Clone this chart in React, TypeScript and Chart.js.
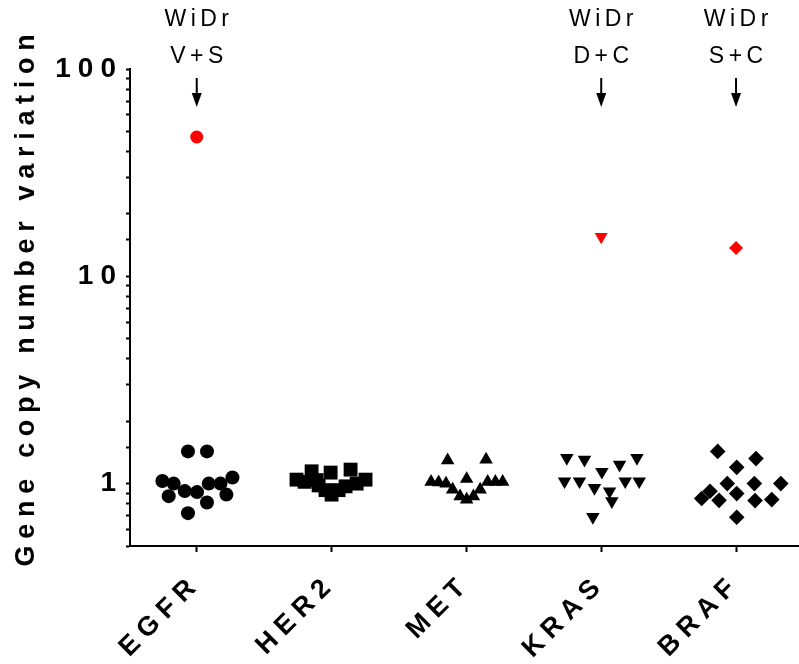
import { useEffect, useRef } from 'react';
import { Chart, registerables } from 'chart.js';

Chart.register(...registerables);

const categories = ['EGFR', 'HER2', 'MET', 'KRAS', 'BRAF'];

const egfrValues = [1.43, 1.43, 1.03, 1.0, 1.07, 1.0, 1.0, 0.87, 0.92, 0.91, 0.885, 0.81, 0.72];
const egfrOffsets = [-0.065, 0.076, -0.255, -0.171, 0.265, 0.089, 0.176, -0.208, -0.089, 0.002, 0.22, 0.076, -0.065];

const her2Values = [1.045, 1.146, 1.13, 1.168, 1.045, 1.02, 0.98, 0.93, 0.885, 0.93, 0.97, 1.0, 1.04];
const her2Offsets = [-0.26, -0.148, -0.007, 0.141, 0.252, -0.2, -0.096, -0.045, 0, 0.052, 0.104, 0.186, -0.111];

const metValues = [1.295, 1.305, 1.053, 1.02, 1.015, 1.0, 1.02, 1.02, 1.02, 0.935, 0.869, 0.837, 0.869, 0.935];
const metOffsets = [-0.139, 0.146, 0.002, -0.262, -0.206, -0.151, 0.158, 0.215, 0.269, -0.102, -0.047, 0.002, 0.052, 0.102];

const krasValues = [1.33, 1.305, 1.33, 1.235, 1.14, 1.026, 1.026, 1.026, 1.026, 0.953, 0.918, 0.822, 0.69];
const krasOffsets = [-0.255, -0.124, 0.265, 0.136, 0.005, -0.272, -0.161, 0.178, 0.282, -0.05, 0.062, 0.079, -0.062];

const brafValues = [1.43, 1.32, 1.198, 1.0, 1.0, 1.0, 0.918, 0.895, 0.847, 0.83, 0.828, 0.837, 0.688];
const brafOffsets = [-0.136, 0.148, 0.005, -0.065, 0.136, 0.332, -0.193, 0.005, -0.255, -0.126, 0.141, 0.265, 0.005];

const outlierValues = [47, null, null, 15.5, 13.7];

const annotationTop = ['WiDr', '', '', 'WiDr', 'WiDr'];
const annotationBottom = ['V+S', '', '', 'D+C', 'S+C'];

const yTickLabels = [1, 10, 100];
const yTitle = 'Gene copy number variation';

const seriesValues = [egfrValues, her2Values, metValues, krasValues, brafValues];
const seriesOffsets = [egfrOffsets, her2Offsets, metOffsets, krasOffsets, brafOffsets];
const pointStyles = ['circle', 'rect', 'triangle', 'triangle', 'rectRot'];
const pointRotations = [0, 0, 0, 180, 0];
const pointRadii = [7, 9.8, 7.8, 7.8, 7.8];
const outlierRadii = [6.5, 6.5, 6.5, 7.5, 7];

const FONT = '"Liberation Sans", Arial, sans-serif';

export default function App() {
  const ref = useRef<HTMLCanvasElement | null>(null);

  useEffect(() => {
    document.body.style.margin = '0';
    const canvas = ref.current;
    if (!canvas) return;
    Chart.defaults.font.family = FONT;

    const datasets: any[] = seriesValues.map((vals, i) => ({
      label: categories[i],
      data: vals.map((v, k) => ({ x: i + seriesOffsets[i][k], y: v })),
      pointStyle: pointStyles[i],
      rotation: pointRotations[i],
      pointRadius: pointRadii[i],
      backgroundColor: '#000000',
      borderColor: '#000000',
      borderWidth: 0,
      showLine: false,
    }));

    const outlierIdx: number[] = [];
    const outlierData: any[] = [];
    outlierValues.forEach((v, i) => {
      if (v != null) {
        outlierIdx.push(i);
        outlierData.push({ x: i, y: v });
      }
    });
    datasets.push({
      label: 'outliers',
      data: outlierData,
      pointStyle: outlierIdx.map((i) => pointStyles[i]),
      rotation: outlierIdx.map((i) => pointRotations[i]),
      pointRadius: outlierIdx.map((i) => outlierRadii[i]),
      backgroundColor: '#ff0000',
      borderColor: '#ff0000',
      borderWidth: 0,
      showLine: false,
    });

    const spacingPlugin = {
      id: 'spacing',
      beforeDraw(chart: any) {
        const ctx = chart.ctx;
        ctx.save();
        ctx.letterSpacing = '7px';
      },
      beforeDatasetsDraw(chart: any) {
        chart.ctx.restore();
      },
    };

    const annotPlugin = {
      id: 'annot',
      afterDraw(chart: any) {
        const ctx = chart.ctx;
        const xs = chart.scales.x;
        ctx.save();
        ctx.fillStyle = '#000';
        ctx.strokeStyle = '#000';
        ctx.font = `23px ${FONT}`;
        ctx.letterSpacing = '4.5px';
        ctx.textAlign = 'center';
        ctx.textBaseline = 'middle';
        annotationTop.forEach((t, i) => {
          if (!t) return;
          const x = xs.getPixelForValue(i);
          ctx.fillText(t, x + 2.25, 20);
          ctx.fillText(annotationBottom[i], x + 2.25, 57);
          ctx.lineWidth = 2;
          ctx.beginPath();
          ctx.moveTo(x, 78);
          ctx.lineTo(x, 96);
          ctx.stroke();
          ctx.beginPath();
          ctx.moveTo(x - 5, 93);
          ctx.lineTo(x + 5, 93);
          ctx.lineTo(x, 107);
          ctx.closePath();
          ctx.fill();
        });
        // y title
        ctx.translate(27, 297);
        ctx.rotate(-Math.PI / 2);
        ctx.font = `bold 27px ${FONT}`;
        ctx.letterSpacing = '6.7px';
        ctx.fillText(yTitle, 0, 0);
        ctx.restore();
      },
    };

    const chart = new Chart(canvas, {
      type: 'scatter',
      data: { datasets },
      options: {
        animation: false,
        responsive: false,
        layout: { autoPadding: false, padding: { top: 69, right: 0, left: 0, bottom: 0 } },
        plugins: { legend: { display: false }, tooltip: { enabled: false } },
        scales: {
          x: {
            type: 'linear',
            min: -0.495,
            max: 4.467,
            afterBuildTicks: (scale: any) => {
              scale.ticks = categories.map((_, i) => ({ value: i }));
            },
            afterFit: (scale: any) => {
              scale.height = 118;
              scale.paddingLeft = 0;
              scale.paddingRight = 0;
            },
            ticks: {
              autoSkip: false,
              minRotation: 45,
              maxRotation: 45,
              padding: 16,
              color: '#000',
              font: { size: 27, weight: 'bold', family: FONT },
              callback: (v: any) => categories[Math.round(v)] ?? '',
            },
            grid: {
              display: true,
              drawOnChartArea: false,
              drawTicks: true,
              tickLength: 6,
              tickWidth: 2,
              tickColor: '#000',
            },
            border: { display: true, color: '#000', width: 2 },
          },
          y: {
            type: 'logarithmic',
            min: 0.5,
            max: 100,
            afterFit: (scale: any) => {
              scale.width = 130;
            },
            ticks: {
              autoSkip: false,
              padding: 3,
              color: '#000',
              font: { size: 28, weight: 'bold', family: FONT },
              callback: (v: any) => {
                const hit = yTickLabels.find((t) => Math.abs(t - v) < 1e-9 * t);
                return hit != null ? String(hit) : '';
              },
            },
            grid: {
              display: true,
              drawOnChartArea: false,
              drawTicks: true,
              tickLength: 4,
              tickWidth: 2,
              tickColor: '#000',
            },
            border: { display: true, color: '#000', width: 2 },
          },
        },
      } as any,
      plugins: [spacingPlugin, annotPlugin],
    });

    return () => chart.destroy();
  }, []);

  return (
    <div style={{ width: 799, height: 664 }}>
      <canvas ref={ref} width={799} height={664} style={{ display: 'block' }} />
    </div>
  );
}
